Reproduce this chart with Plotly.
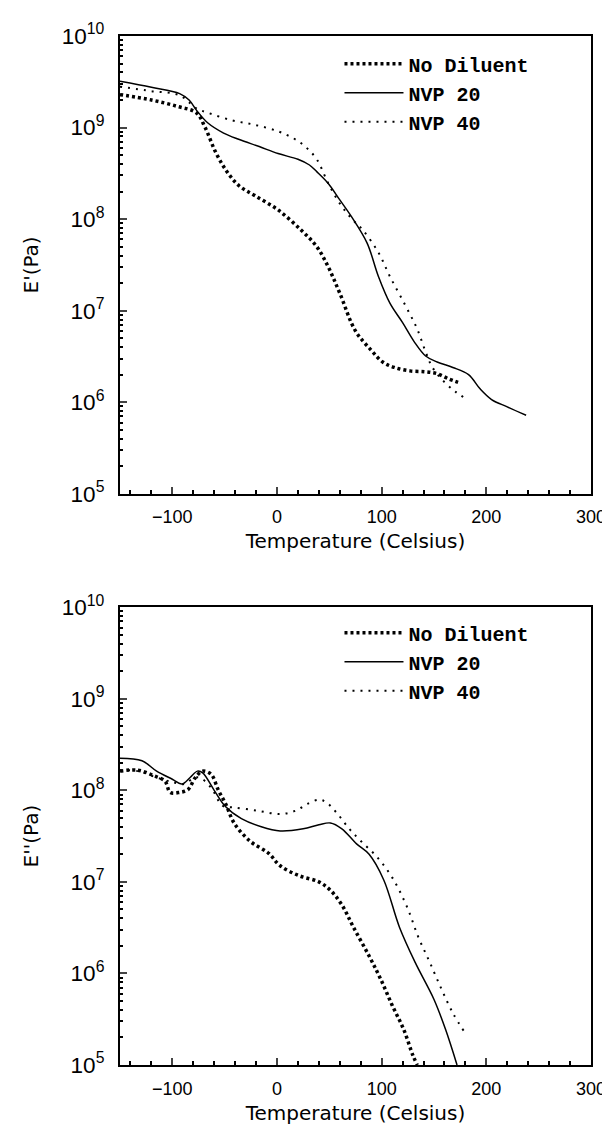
import plotly.graph_objects as go
from plotly.subplots import make_subplots

# storage modulus E' (top panel)
t_e1_nd = [-150, -120, -95, -77, -69, -58, -47, -36, -21, 1, 23, 38, 49, 60, 75, 90, 101, 112, 127, 142, 153, 164, 173]
e1_nd = [2.29e9, 2.0e9, 1.7e9, 1.45e9, 1.02e9, 5.2e8, 3.2e8, 2.3e8, 1.8e8, 1.26e8, 7.6e7, 5.0e7, 3.0e7, 1.55e7,
         6.0e6, 3.7e6, 2.75e6, 2.4e6, 2.2e6, 2.15e6, 2.05e6, 1.8e6, 1.65e6]

t_e1_20 = [-150, -120, -93, -84, -77, -66, -51, -36, -17, 1, 20, 31, 38, 49, 60, 71, 86, 97, 108, 120, 131, 142,
           153, 168, 183, 194, 205, 220, 238]
e1_20 = [3.2e9, 2.75e9, 2.35e9, 2.0e9, 1.55e9, 1.12e9, 8.7e8, 7.4e8, 6.2e8, 5.2e8, 4.5e8, 3.9e8, 3.3e8, 2.45e8,
         1.62e8, 1.07e8, 5.5e7, 2.35e7, 1.2e7, 7.4e6, 4.6e6, 3.2e6, 2.75e6, 2.4e6, 2.0e6, 1.4e6, 1.07e6, 8.9e5, 7.2e5]

t_e1_40 = [-150, -120, -93, -77, -66, -43, -21, 1, 16, 27, 38, 49, 60, 71, 82, 97, 108, 123, 134, 142, 149, 160,
           171, 180]
e1_40 = [2.8e9, 2.5e9, 2.25e9, 1.62e9, 1.45e9, 1.2e9, 1.07e9, 9.1e8, 7.6e8, 6.2e8, 4.5e8, 2.45e8, 1.48e8, 1.02e8,
         7.6e7, 4.3e7, 2.35e7, 1.12e7, 6.3e6, 3.55e6, 2.35e6, 1.66e6, 1.29e6, 1.1e6]

# loss modulus E'' (bottom panel)
t_e2_nd = [-150, -133, -118, -107, -102, -93, -85, -78, -71, -63, -56, -49, -41, -26, -8, 3, 21, 40, 51, 62, 73,
           88, 99, 110, 121, 130, 134]
e2_nd = [1.62e8, 1.66e8, 1.45e8, 1.26e8, 9.5e7, 9.5e7, 1.02e8, 1.38e8, 1.62e8, 1.5e8, 1.0e8, 7.1e7, 4.4e7, 2.8e7,
         2.05e7, 1.5e7, 1.17e7, 1.0e7, 8.1e6, 5.6e6, 3.2e6, 1.55e6, 8.7e5, 4.5e5, 2.45e5, 1.26e5, 1.0e5]

t_e2_20 = [-150, -129, -115, -100, -91, -83, -76, -71, -60, -49, -34, -15, 3, 25, 40, 51, 62, 76, 88, 102, 117,
           132, 150, 161, 172]
e2_20 = [2.24e8, 2.1e8, 1.62e8, 1.32e8, 1.17e8, 1.38e8, 1.62e8, 1.55e8, 1.0e8, 6.6e7, 4.9e7, 4.0e7, 3.6e7, 3.8e7,
         4.2e7, 4.4e7, 3.8e7, 2.6e7, 2.0e7, 1.05e7, 3.2e6, 1.32e6, 5.2e5, 2.45e5, 1.0e5]

t_e2_40 = [-150, -133, -115, -100, -89, -80, -74, -63, -52, -41, -19, 3, 18, 29, 40, 47, 58, 69, 80, 95, 110, 124,
           135, 146, 157, 168, 179]
e2_40 = [1.66e8, 1.62e8, 1.38e8, 1.23e8, 1.17e8, 1.35e8, 1.38e8, 1.07e8, 6.8e7, 6.5e7, 6.0e7, 5.5e7, 6.0e7, 7.1e7,
         7.9e7, 7.4e7, 5.5e7, 3.8e7, 2.8e7, 1.9e7, 1.12e7, 5.4e6, 2.5e6, 1.32e6, 6.8e5, 3.7e5, 2.3e5]

names = ["No Diluent", "NVP 20", "NVP 40"]
styles = [dict(color="black", width=3.5, dash="3px,3px"),
          dict(color="black", width=1.5),
          dict(color="black", width=2, dash="2px,6px")]

fig = make_subplots(rows=2, cols=1)

top = [(t_e1_nd, e1_nd), (t_e1_20, e1_20), (t_e1_40, e1_40)]
bot = [(t_e2_nd, e2_nd), (t_e2_20, e2_20), (t_e2_40, e2_40)]
for i, (x, y) in enumerate(top):
    fig.add_trace(go.Scatter(x=x, y=y, mode="lines", name=names[i], line=styles[i],
                             line_shape="spline", legend="legend"), row=1, col=1)
for i, (x, y) in enumerate(bot):
    fig.add_trace(go.Scatter(x=x, y=y, mode="lines", name=names[i], line=styles[i],
                             line_shape="spline", legend="legend2"), row=2, col=1)

tick_font = dict(family="Liberation Sans, Arial", size=18, color="black")
title_font = dict(family="DejaVu Sans", size=20, color="black")
leg_font = dict(family="Liberation Mono, Courier New", size=20, color="black", weight="bold")

xax = dict(range=[-150, 300], tick0=0, dtick=100, ticks="inside", ticklen=7, tickwidth=1.5,
           ticklabelstandoff=6,
           minor=dict(dtick=20, ticks="inside", ticklen=4, tickcolor="black"),
           showline=True, linecolor="black", linewidth=2, mirror=True, showgrid=False, zeroline=False,
           tickfont=tick_font, title=dict(text="Temperature (Celsius)", font=title_font, standoff=8))
yax = dict(type="log", range=[5, 10], dtick=1, exponentformat="power", ticks="inside", ticklen=7, tickwidth=1.5,
           ticklabelstandoff=10,
           minor=dict(dtick="D1", ticks="inside", ticklen=3, tickcolor="black", showgrid=False),
           showline=True, linecolor="black", linewidth=2, mirror=True, showgrid=False, zeroline=False,
           tickfont=tick_font)

fig.update_xaxes(**xax)
fig.update_yaxes(**yax)
fig.update_yaxes(title=dict(text="E'(Pa)", font=title_font, standoff=18), domain=[0.5551, 1.0], row=1, col=1)
fig.update_yaxes(title=dict(text="E''(Pa)", font=title_font, standoff=18), domain=[0.0, 0.4449], row=2, col=1)

fig.update_layout(
    width=610, height=1128,
    margin=dict(l=112, r=22, t=23, b=71),
    paper_bgcolor="white", plot_bgcolor="white",
    legend=dict(x=0.466, y=0.992, xanchor="left", yanchor="top", font=leg_font,
                bgcolor="rgba(0,0,0,0)", itemwidth=59, tracegroupgap=0),
    legend2=dict(x=0.466, y=0.439, xanchor="left", yanchor="top", font=leg_font,
                 bgcolor="rgba(0,0,0,0)", itemwidth=59, tracegroupgap=0),
)

fig.write_html("out.html")
